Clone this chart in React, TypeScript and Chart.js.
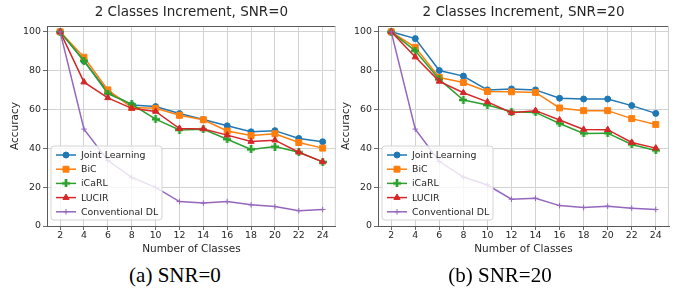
import React, { useEffect, useRef } from 'react';
import { Chart, registerables } from 'chart.js';
import { drawPoint } from 'chart.js/helpers';

Chart.register(...registerables);

// ---------------- data ----------------
const classes = [2, 4, 6, 8, 10, 12, 14, 16, 18, 20, 22, 24];
const xTicks = [2, 4, 6, 8, 10, 12, 14, 16, 18, 20, 22, 24];
const yTicks = [0, 20, 40, 60, 80, 100];
const seriesNames = ['Joint Learning', 'BiC', 'iCaRL', 'LUCIR', 'Conventional DL'];

// SNR = 0
const joint0 = [100, 85, 69, 62.3, 61.5, 57.9, 54.8, 51.6, 48.5, 49.1, 45.1, 43.4];
const bic0 = [100, 86.9, 70.1, 61, 60.6, 57, 54.7, 48.9, 46.6, 47.5, 43, 40.1];
const icarl0 = [100, 85.1, 68.2, 62.7, 55, 49.5, 49.8, 44.7, 39.4, 40.9, 38, 33];
const lucir0 = [100, 74.1, 66, 60.6, 59, 50.2, 50, 46.8, 43.5, 44.2, 38, 33];
const conv0 = [100, 49.9, 33.7, 25, 19.9, 12.6, 11.8, 12.6, 10.9, 10, 7.9, 8.5];

// SNR = 20
const joint20 = [100, 96.5, 80.1, 77.2, 70.1, 70.6, 70.1, 65.8, 65.4, 65.4, 62, 58];
const bic20 = [100, 92, 76.5, 73.9, 69.3, 69.1, 68.8, 60.8, 59.4, 59.4, 55.3, 52.3];
const icarl20 = [100, 90.2, 75.5, 64.9, 62.3, 58.9, 58.5, 52.8, 47.7, 47.8, 42, 38.9];
const lucir20 = [100, 87, 74.5, 68.6, 63.9, 58.3, 59.4, 54.6, 49.7, 49.6, 43, 40.1];
const conv20 = [100, 49.9, 33.2, 25.2, 21.1, 13.8, 14.3, 10.5, 9.5, 10.2, 9.2, 8.5];

// ---------------- styles ----------------
const colors = ['#1f77b4', '#ff7f0e', '#2ca02c', '#d62728', '#9467bd'];
const FONT = "'DejaVu Sans', sans-serif";
const TEXT = '#262626';

function makePlus(color: string, size: number) {
  const c = document.createElement('canvas');
  c.width = size;
  c.height = size;
  const g = c.getContext('2d')!;
  const t = size / 3;
  g.fillStyle = color;
  g.beginPath();
  g.moveTo(t, 0);
  g.lineTo(2 * t, 0);
  g.lineTo(2 * t, t);
  g.lineTo(size, t);
  g.lineTo(size, 2 * t);
  g.lineTo(2 * t, 2 * t);
  g.lineTo(2 * t, size);
  g.lineTo(t, size);
  g.lineTo(t, 2 * t);
  g.lineTo(0, 2 * t);
  g.lineTo(0, t);
  g.lineTo(t, t);
  g.closePath();
  g.fill();
  return c;
}

function pointStyles(): any[] {
  return ['circle', 'rect', makePlus(colors[2], 8), 'triangle', 'cross'];
}
const pointRadii = [3, 4.2, 4, 3.6, 2.8];

const panelPlugin = {
  id: 'panelDecor',
  afterDatasetsDraw(chart: any) {
    const { ctx, chartArea } = chart;
    const opts = chart.options.plugins.panelDecor;
    ctx.save();
    // top & right frame
    ctx.lineWidth = 1;
    ctx.strokeStyle = '#5a5a5a';
    ctx.beginPath();
    ctx.moveTo(chartArea.left, chartArea.top + 0.5);
    ctx.lineTo(chartArea.right, chartArea.top + 0.5);
    ctx.stroke();
    ctx.strokeStyle = '#cfcfcf';
    ctx.beginPath();
    ctx.moveTo(chartArea.right - 0.5, chartArea.top);
    ctx.lineTo(chartArea.right - 0.5, chartArea.bottom);
    ctx.stroke();

    // title
    ctx.fillStyle = TEXT;
    ctx.font = `13.5px ${FONT}`;
    ctx.textAlign = 'center';
    ctx.textBaseline = 'middle';
    ctx.fillText(opts.title, (chartArea.left + chartArea.right) / 2, 12);

    // legend
    const w = 111;
    const h = 74;
    const x0 = chartArea.left + 4;
    const y0 = chartArea.bottom - 6 - h;
    const r = 3;
    ctx.beginPath();
    ctx.moveTo(x0 + r, y0);
    ctx.lineTo(x0 + w - r, y0);
    ctx.arcTo(x0 + w, y0, x0 + w, y0 + r, r);
    ctx.lineTo(x0 + w, y0 + h - r);
    ctx.arcTo(x0 + w, y0 + h, x0 + w - r, y0 + h, r);
    ctx.lineTo(x0 + r, y0 + h);
    ctx.arcTo(x0, y0 + h, x0, y0 + h - r, r);
    ctx.lineTo(x0, y0 + r);
    ctx.arcTo(x0, y0, x0 + r, y0, r);
    ctx.closePath();
    ctx.fillStyle = 'rgba(255,255,255,0.8)';
    ctx.fill();
    ctx.strokeStyle = '#d4d4d4';
    ctx.lineWidth = 1;
    ctx.stroke();

    ctx.font = `9.4px ${FONT}`;
    ctx.textAlign = 'left';
    ctx.textBaseline = 'middle';
    chart.data.datasets.forEach((ds: any, i: number) => {
      const y = y0 + 9 + i * 14.2;
      ctx.strokeStyle = ds.borderColor;
      ctx.lineWidth = 1.5;
      ctx.beginPath();
      ctx.moveTo(x0 + 5, y);
      ctx.lineTo(x0 + 25, y);
      ctx.stroke();
      ctx.fillStyle = ds.pointBackgroundColor;
      ctx.strokeStyle = ds.pointBorderColor;
      ctx.lineWidth = 1;
      drawPoint(ctx, { pointStyle: ds.pointStyle, radius: ds.pointRadius, rotation: 0, borderWidth: 1 } as any, x0 + 15, y);
      ctx.fillStyle = TEXT;
      ctx.fillText(ds.label, chartArea.left + 34, y + 0.5);
    });
    ctx.restore();
  },
};

type PanelProps = {
  title: string;
  series: number[][];
  left: number;
  width: number;
  padRight: number;
};

function Panel({ title, series, left, width, padRight }: PanelProps) {
  const ref = useRef<HTMLCanvasElement | null>(null);
  useEffect(() => {
    if (!ref.current) return;
    const styles = pointStyles();
    const datasets = series.map((vals, i) => ({
      label: seriesNames[i],
      data: classes.map((c, j) => ({ x: c, y: vals[j] })),
      borderColor: colors[i],
      backgroundColor: colors[i],
      pointBackgroundColor: colors[i],
      pointBorderColor: colors[i],
      pointStyle: styles[i],
      pointRadius: pointRadii[i],
      pointBorderWidth: 1,
      borderWidth: 1.5,
      tension: 0,
      order: 4 - i,
    }));
    const chart = new Chart(ref.current, {
      type: 'line',
      data: { datasets },
      plugins: [panelPlugin],
      options: {
        animation: false,
        responsive: false,
        layout: { padding: { top: 26, right: padRight, left: 0, bottom: 0 } },
        plugins: {
          legend: { display: false },
          tooltip: { enabled: false },
          title: { display: false },
          panelDecor: { title },
        } as any,
        scales: {
          x: {
            type: 'linear',
            min: 0.9,
            max: 25.1,
            afterBuildTicks: (s: any) => {
              s.ticks = xTicks.map((v) => ({ value: v }));
            },
            afterFit: (s: any) => {
              s.height = 32;
            },
            ticks: {
              color: TEXT,
              font: { family: FONT, size: 9.4 },
              padding: 0,
              maxRotation: 0,
              autoSkip: false,
            },
            grid: {
              color: '#d3d3d3',
              lineWidth: 1,
              drawTicks: true,
              tickLength: 4,
              tickColor: '#6a6a6a',
            },
            border: { display: true, color: '#5a5a5a', width: 1 },
            title: {
              display: true,
              text: 'Number of Classes',
              color: TEXT,
              font: { family: FONT, size: 10.5 },
              padding: { top: 0, bottom: 2 },
            },
          },
          y: {
            type: 'linear',
            min: 0,
            max: 103,
            afterBuildTicks: (s: any) => {
              s.ticks = yTicks.map((v) => ({ value: v }));
            },
            afterFit: (s: any) => {
              s.width = 47;
            },
            ticks: {
              color: TEXT,
              font: { family: FONT, size: 9.4 },
              padding: 2,
            },
            grid: {
              color: '#d3d3d3',
              lineWidth: 1,
              drawTicks: true,
              tickLength: 4,
              tickColor: '#6a6a6a',
            },
            border: { display: true, color: '#5a5a5a', width: 1 },
            title: {
              display: true,
              text: 'Accuracy',
              color: TEXT,
              font: { family: FONT, size: 10.5 },
              padding: { top: 9, bottom: 0 },
            },
          },
        },
      } as any,
    });
    return () => chart.destroy();
  }, []);
  return (
    <canvas
      ref={ref}
      width={width}
      height={258}
      style={{ position: 'absolute', left, top: 0, width, height: 258 }}
    />
  );
}

const captionStyle: React.CSSProperties = {
  position: 'absolute',
  top: 263,
  width: 200,
  textAlign: 'center',
  fontFamily: "'Liberation Serif', 'Times New Roman', serif",
  fontSize: 21,
  lineHeight: '24px',
  color: '#000',
  whiteSpace: 'nowrap',
};

export default function App() {
  return (
    <div
      style={{
        position: 'fixed',
        left: 0,
        top: 0,
        width: 683,
        height: 290,
        background: '#fff',
        overflow: 'hidden',
      }}
    >
      <Panel
        title="2 Classes Increment, SNR=0"
        series={[joint0, bic0, icarl0, lucir0, conv0]}
        left={0}
        width={341}
        padRight={4}
      />
      <Panel
        title="2 Classes Increment, SNR=20"
        series={[joint20, bic20, icarl20, lucir20, conv20]}
        left={331}
        width={352}
        padRight={14}
      />
      <div style={{ ...captionStyle, left: 175 - 100 }}>(a) SNR=0</div>
      <div style={{ ...captionStyle, left: 500 - 100 }}>(b) SNR=20</div>
    </div>
  );
}
